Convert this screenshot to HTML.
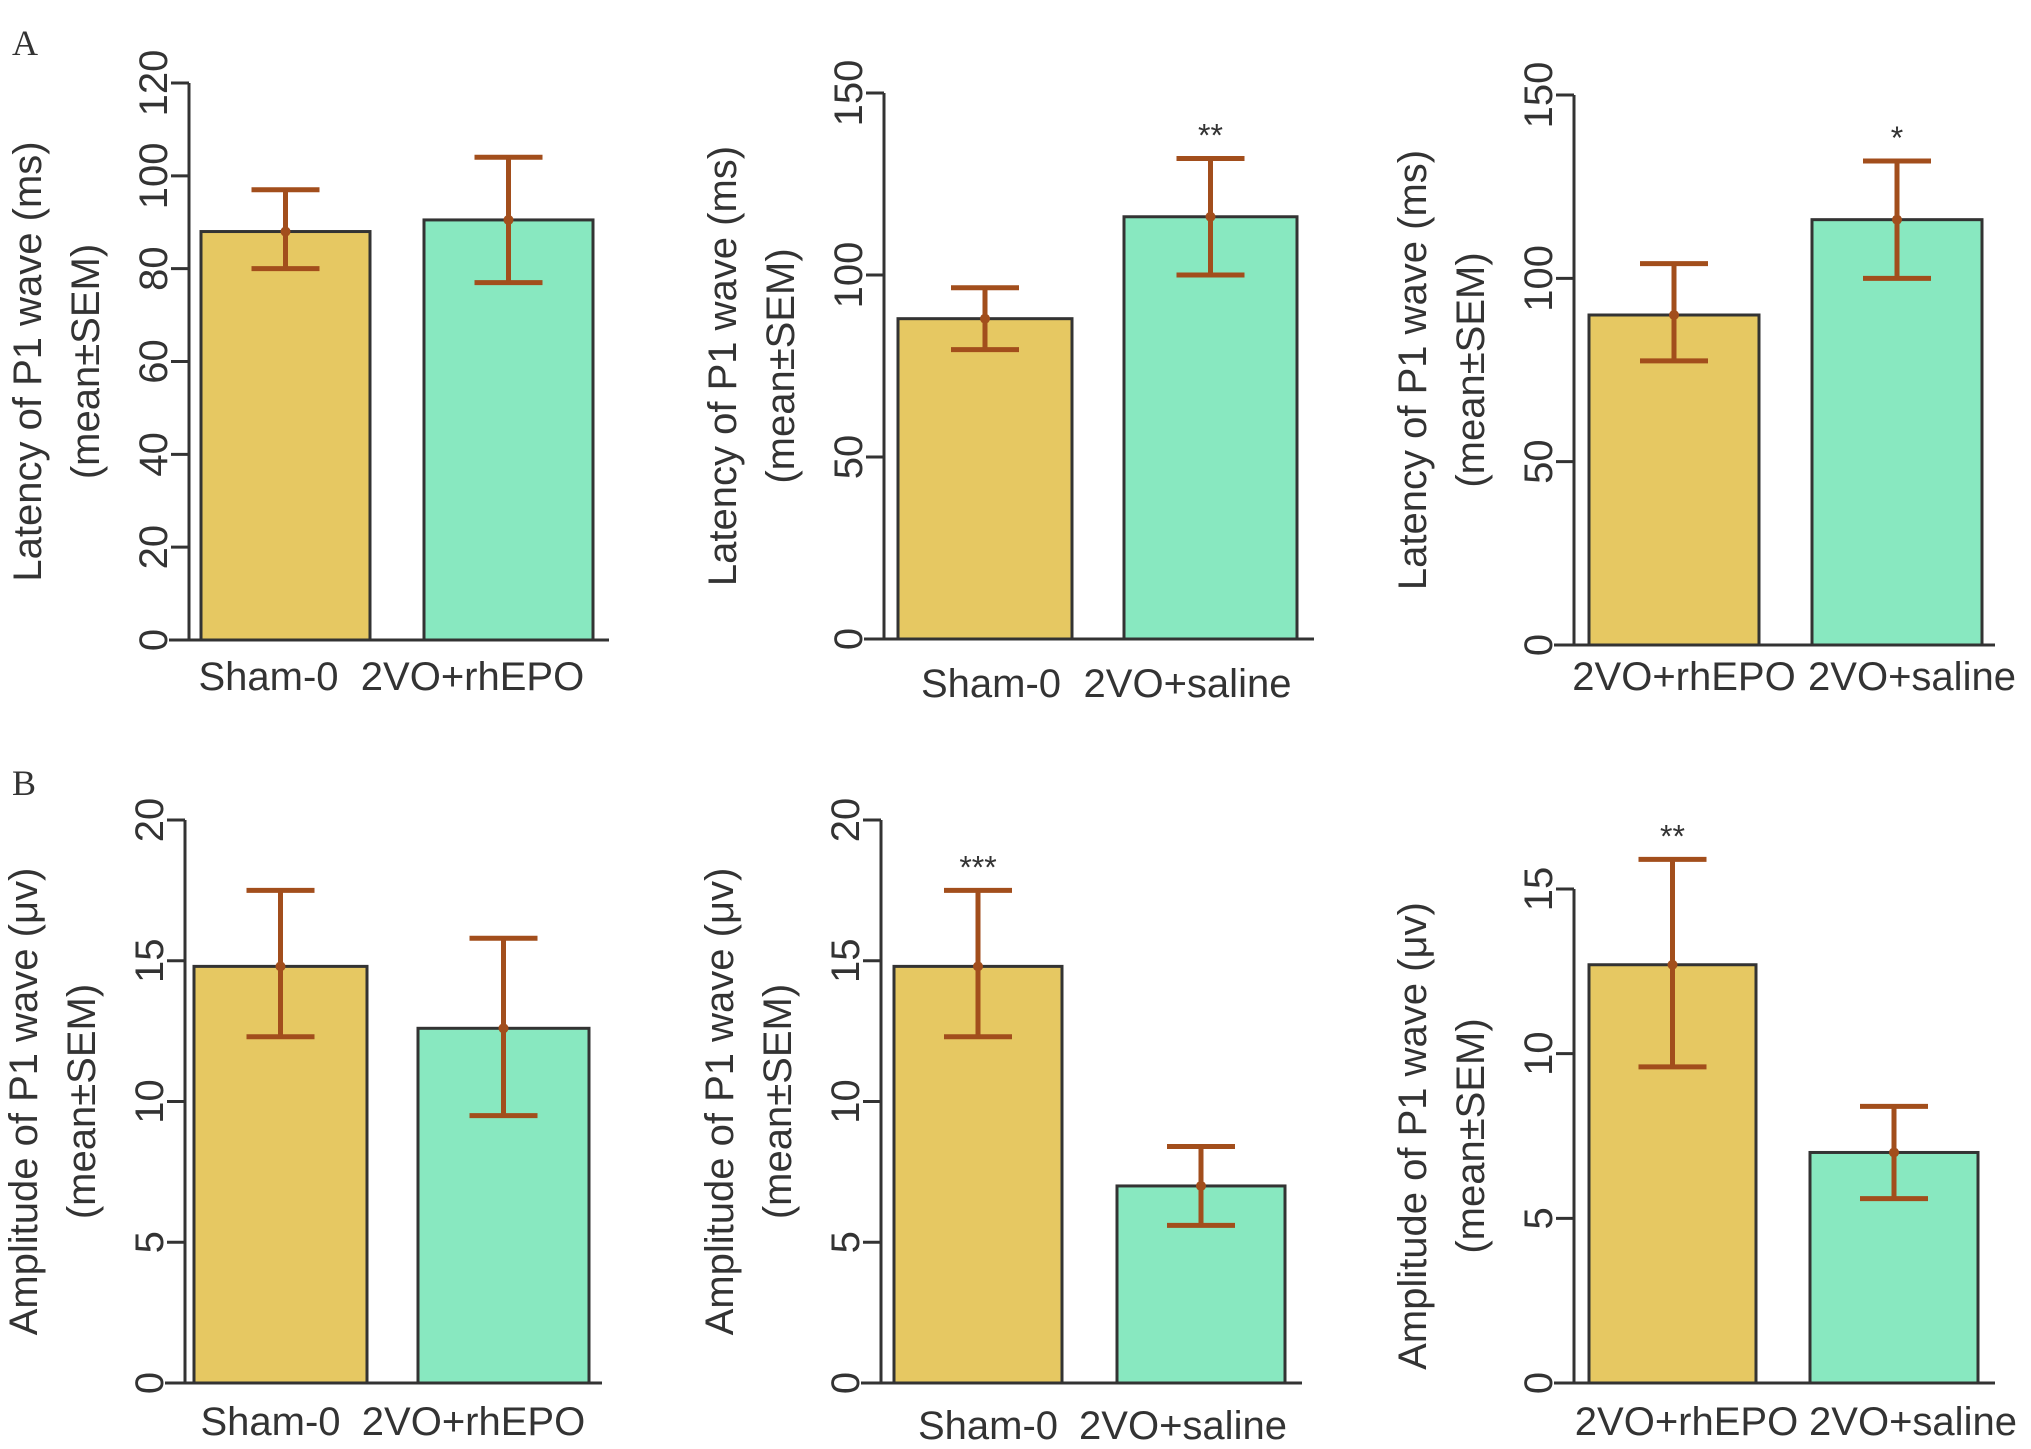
<!DOCTYPE html>
<html><head><meta charset="utf-8"><style>
html,body{margin:0;padding:0;background:#fff;}
svg{display:block;}
text{font-family:"Liberation Sans",sans-serif;fill:#333;}
</style></head><body>
<svg id="fig" width="2031" height="1449" viewBox="0 0 2031 1449" xmlns="http://www.w3.org/2000/svg">
<text x="12" y="55" style="font-family:'Liberation Serif',serif;font-size:36px;">A</text>
<text x="12" y="795" style="font-family:'Liberation Serif',serif;font-size:36px;">B</text>
</svg>
<script>
// Data arrays (per panel)
const categoriesA1 = ["Sham-0", "2VO+rhEPO"];
const meansA1 = [88, 90.5];
const lowA1 = [80, 77];
const highA1 = [97, 104];
const starsA1 = ["", ""];
const ticksA1 = [0, 20, 40, 60, 80, 100, 120];

const categoriesA2 = ["Sham-0", "2VO+saline"];
const meansA2 = [88, 116];
const lowA2 = [79.5, 100];
const highA2 = [96.5, 132];
const starsA2 = ["", "**"];
const ticksA2 = [0, 50, 100, 150];

const categoriesA3 = ["2VO+rhEPO", "2VO+saline"];
const meansA3 = [90, 116];
const lowA3 = [77.5, 100];
const highA3 = [104, 132];
const starsA3 = ["", "*"];
const ticksA3 = [0, 50, 100, 150];

const categoriesB1 = ["Sham-0", "2VO+rhEPO"];
const meansB1 = [14.8, 12.6];
const lowB1 = [12.3, 9.5];
const highB1 = [17.5, 15.8];
const starsB1 = ["", ""];
const ticksB1 = [0, 5, 10, 15, 20];

const categoriesB2 = ["Sham-0", "2VO+saline"];
const meansB2 = [14.8, 7.0];
const lowB2 = [12.3, 5.6];
const highB2 = [17.5, 8.4];
const starsB2 = ["***", ""];
const ticksB2 = [0, 5, 10, 15, 20];

const categoriesB3 = ["2VO+rhEPO", "2VO+saline"];
const meansB3 = [12.7, 7.0];
const lowB3 = [9.6, 5.6];
const highB3 = [15.9, 8.4];
const starsB3 = ["**", ""];
const ticksB3 = [0, 5, 10, 15];

const svg = document.getElementById('fig');
const NS = 'http://www.w3.org/2000/svg';
function mk(tag, attrs, parent) {
  const e = document.createElementNS(NS, tag);
  for (const k in attrs) e.setAttribute(k, attrs[k]);
  (parent || svg).appendChild(e);
  return e;
}
const fills = ["#e6c862", "#88e8c0"];
const errC = "#a24e1c";

function panel(id, layout, cats, means, lo, hi, stars, ticks, title1, title2) {
  const g = mk('g', {});
  
  
  const ax = layout.ax, y0 = layout.y0, yT = layout.yT, tMax = ticks[ticks.length - 1];
  const yS = v => y0 - (v / tMax) * (y0 - yT);
  const yl = mk('line', {x1: ax, y1: yT, x2: ax, y2: y0, stroke: '#333', 'stroke-width': 3}, g);
  
  
  const xl = mk('line', {x1: ax - 20, y1: y0, x2: layout.xEnd, y2: y0, stroke: '#333', 'stroke-width': 3}, g);
  
  
  ticks.forEach(t => {
    const y = yS(t);
    mk('line', {x1: ax - 18, y1: y, x2: ax, y2: y, stroke: '#333', 'stroke-width': 3}, g);
    const tx = mk('text', {x: ax - 36, y: y + 14, 'font-size': 40, 'text-anchor': 'middle',
      transform: `rotate(-90 ${ax - 36} ${y})`}, g);
    
    
    tx.textContent = t;
  });
  const tcy = (y0 + yT) / 2;
  const t1 = mk('text', {x: ax - 162, y: tcy + 14, 'font-size': 40, 'text-anchor': 'middle',
    transform: `rotate(-90 ${ax - 162} ${tcy})`}, g);
  
  
  t1.textContent = title1;
  const t2 = mk('text', {x: ax - 104, y: tcy + 14, 'font-size': 40, 'text-anchor': 'middle',
    transform: `rotate(-90 ${ax - 104} ${tcy})`}, g);
  
  
  t2.textContent = title2;
  cats.forEach((c, i) => {
    const bx = layout.bars[i][0], bw = layout.bars[i][1] - layout.bars[i][0];
    const cx = bx + bw / 2;
    const r = mk('rect', {x: bx, y: yS(means[i]), width: bw, height: y0 - yS(means[i]),
      fill: fills[i], stroke: '#333', 'stroke-width': 3}, g);
    
    
    const eg = mk('g', {stroke: errC, 'stroke-width': 5}, g);
    
    
    mk('line', {x1: cx, y1: yS(hi[i]), x2: cx, y2: yS(lo[i])}, eg);
    mk('line', {x1: cx - 34, y1: yS(hi[i]), x2: cx + 34, y2: yS(hi[i])}, eg);
    mk('line', {x1: cx - 34, y1: yS(lo[i]), x2: cx + 34, y2: yS(lo[i])}, eg);
    mk('circle', {cx: cx, cy: yS(means[i]), r: 5, fill: errC, stroke: 'none'}, eg);
    if (stars[i]) {
      const s = mk('text', {x: cx, y: yS(hi[i]) - 12, 'font-size': 32, 'text-anchor': 'middle'}, g);
      
      
      s.textContent = stars[i];
    }
    const lb = mk('text', {x: cx + layout.labOff[i], y: layout.labY, 'font-size': 40, 'text-anchor': 'middle'}, g);
    
    
    lb.textContent = c;
  });
}
const latT = "Latency of P1 wave (ms)", ampT = "Amplitude of P1 wave (\u03bcv)", semT = "(mean\u00b1SEM)";
panel('a1', {ax: 189, y0: 640, yT: 83, xEnd: 609, bars: [[201, 370], [424, 593]], labY: 690, labOff: [-17, -36]}, categoriesA1, meansA1, lowA1, highA1, starsA1, ticksA1, latT, semT);
panel('a2', {ax: 884, y0: 639, yT: 93, xEnd: 1314, bars: [[898, 1072], [1124, 1297]], labY: 697, labOff: [6, -23]}, categoriesA2, meansA2, lowA2, highA2, starsA2, ticksA2, latT, semT);
panel('a3', {ax: 1574, y0: 645, yT: 95, xEnd: 1995, bars: [[1589, 1759], [1812, 1982]], labY: 690, labOff: [10, 15]}, categoriesA3, meansA3, lowA3, highA3, starsA3, ticksA3, latT, semT);
panel('b1', {ax: 185, y0: 1383, yT: 820, xEnd: 602, bars: [[194, 367], [418, 589]], labY: 1435, labOff: [-10, -30]}, categoriesB1, meansB1, lowB1, highB1, starsB1, ticksB1, ampT, semT);
panel('b2', {ax: 881, y0: 1383, yT: 820, xEnd: 1302, bars: [[894, 1062], [1117, 1285]], labY: 1439, labOff: [10, -18]}, categoriesB2, meansB2, lowB2, highB2, starsB2, ticksB2, ampT, semT);
panel('b3', {ax: 1574, y0: 1383, yT: 889, xEnd: 1995, bars: [[1589, 1756], [1810, 1978]], labY: 1435, labOff: [14, 19]}, categoriesB3, meansB3, lowB3, highB3, starsB3, ticksB3, ampT, semT);
</script>
</body></html>
